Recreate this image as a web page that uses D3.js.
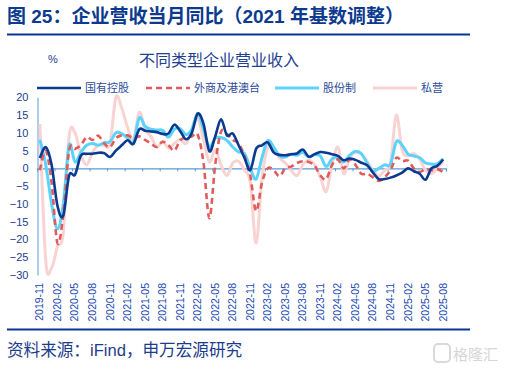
<!DOCTYPE html>
<html>
<head>
<meta charset="utf-8">
<script src="https://cdn.jsdelivr.net/npm/d3@7"></script>
<style>
body { margin: 0; background: #fff; }
svg { display: block; }
</style>
</head>
<body>
<div id="chart"></div>
<script>
// 国有控股
const stateOwned = [2.9, 6.0, 1.0, -10.5, -13.3, -2.0, -1.8, 3.6, 4.1, 4.1, 4.4, 4.3, 3.2, 5.0, 6.5, 7.9, 6.9, 11.0,
  10.6, 10.4, 10.2, 9.7, 9.8, 12.3, 10.5, 8.2, 10.0, 15.4, 12.5, 4.8, 9.0, 13.8, 9.3, 9.8, 6.5, 3.0,
  -0.5, 5.5, 6.5, 7.3, 4.5, 3.8, 3.7, 4.0, 4.2, 5.3, 3.3, 4.0, 4.6, 4.4, 4.0, 3.5, 2.3, 2.8,
  2.4, 1.6, 0.9, -1.2, -3.0, -3.0, -2.6, -2.0, -1.2, 0.0, -0.8, -1.5, -3.2, 0.0, 0.7, 2.5];
// 外商及港澳台
const foreignHkMoTw = [-0.5, 5.0, -4.0, -21.0, -13.0, 5.0, 5.5, 6.5, 8.8, 8.0, 9.2, 7.0, 6.0, 8.5, 9.3, 9.3, 8.5, 9.0,
  8.0, 7.0, 6.0, 7.5, 6.5, 5.0, 7.9, 8.8, 9.0, 9.5, 1.5, -14.0, 1.0, 10.3, 9.7, 8.0, 7.0, 3.5,
  -2.0, -12.0, -4.0, 0.0, -0.5, -2.2, 0.0, 0.5, 1.5, 2.0, 1.8, 0.8, -2.0, -3.0, 1.0, 2.5, 0.0, 2.5,
  1.0, -1.5, -1.5, -2.5, -3.5, -2.5, -0.5, 3.0, 2.0, 2.2, 0.0, -1.0, -0.2, -0.5, -0.2, -1.0];
// 股份制
const jointStock = [8.0, 1.0, -10.0, -17.0, -10.0, 6.5, 1.8, 4.5, 6.5, 7.0, 6.5, 7.2, 7.5, 10.0, 9.8, 8.5, 7.2, 14.2,
  11.8, 11.0, 10.8, 10.7, 8.8, 11.0, 11.2, 9.5, 11.0, 15.5, 11.0, 6.0, 8.5, 8.7, 7.9, 6.0, 4.6, 4.2,
  0.0, -3.0, 3.0, 7.8, 6.0, 3.5, 3.2, 4.0, 3.7, 4.5, 3.2, 3.8, 3.5, 0.5, 2.7, 3.2, 1.8, 3.7,
  4.8, 4.2, 1.5, -0.8, 0.0, 1.0, 1.2, 7.5, 6.5, 4.0, 3.5, 3.0, 1.5, 1.2, 1.3, 2.7];
// 私营
const privateOwned = [12.5, -26.0, -28.0, -22.0, -18.0, 9.0, 10.0, 4.0, 1.0, 4.5, 6.5, 6.5, 7.0, 20.0, 17.0, 11.5, 8.0, 15.8,
  11.0, 9.0, 6.0, 7.5, 5.8, 7.0, 8.2, 7.0, 10.5, 14.0, 8.0, 1.8, 5.3, 1.0, -2.0, 1.5, 2.0, -0.5,
  -4.0, -21.0, -3.0, 6.0, 5.5, 3.0, 1.5, -0.5, -2.0, 1.0, 2.3, 1.0, -2.5, -6.5, 1.0, 6.0, -1.5, 3.0,
  4.5, 4.0, 2.0, -0.5, -2.2, -0.5, 1.5, 15.0, 5.0, 3.5, 4.2, 2.5, -0.5, -1.5, 0.0, 2.0];

const tickLabels = ["2019-11", "2020-02", "2020-05", "2020-08", "2020-11", "2021-02", "2021-05", "2021-08",
  "2021-11", "2022-02", "2022-05", "2022-08", "2022-11", "2023-02", "2023-05", "2023-08", "2023-11",
  "2024-02", "2024-05", "2024-08", "2024-11", "2025-02", "2025-05", "2025-08"];
const yTicks = [20, 15, 10, 5, 0, -5, -10, -15, -20, -25, -30];

const fmt = d3.timeFormat("%Y-%m");
const months = d3.timeMonth.range(new Date(2019, 10, 1), new Date(2025, 8, 1)).map(fmt);

const series = [
  { name: "私营", values: privateOwned, color: "#f9d2d2", width: 3, dash: null },
  { name: "股份制", values: jointStock, color: "#5bd3fa", width: 3, dash: null },
  { name: "外商及港澳台", values: foreignHkMoTw, color: "#e05c5c", width: 2.6, dash: "6,4" },
  { name: "国有控股", values: stateOwned, color: "#0b3a8f", width: 2.6, dash: null }
];
const legendOrder = ["国有控股", "外商及港澳台", "股份制", "私营"];

const W = 508, H = 373;
const cnFont = "'Liberation Sans', 'Noto Sans CJK SC', sans-serif";
const navy = "#0c3a8e";

const svg = d3.select("#chart").append("svg")
  .attr("width", W)
  .attr("height", H);

// header
svg.append("text")
  .attr("x", 7).attr("y", 23)
  .attr("font-family", cnFont)
  .attr("font-size", 19)
  .attr("font-weight", "bold")
  .attr("fill", navy)
  .text("图 25：企业营收当月同比（2021 年基数调整）");
svg.append("line")
  .attr("x1", 7).attr("x2", 470).attr("y1", 34.5).attr("y2", 34.5)
  .attr("stroke", "#0a3597").attr("stroke-width", 2);

svg.append("text")
  .attr("x", 53).attr("y", 63)
  .attr("text-anchor", "middle")
  .attr("font-family", cnFont).attr("font-size", 11)
  .attr("fill", "#1c3d8c")
  .text("%");
svg.append("text")
  .attr("x", 219).attr("y", 66)
  .attr("text-anchor", "middle")
  .attr("font-family", cnFont).attr("font-size", 16)
  .attr("fill", "#22408f")
  .text("不同类型企业营业收入");

// scales
const x = d3.scaleBand().domain(months).range([37, 446]);
const y = d3.scaleLinear().domain([-30, 20]).range([275, 97.3]);
const cx = d => x(d) + x.bandwidth() / 2;

// y axis
const yAxis = svg.append("g")
  .attr("transform", "translate(" + 37.5 + ",0)")
  .call(d3.axisLeft(y).tickValues(yTicks).tickSize(0).tickPadding(9));
yAxis.select(".domain").attr("stroke", "#5b9bd5").attr("stroke-width", 1);
yAxis.selectAll("text")
  .attr("font-family", cnFont).attr("font-size", 11)
  .attr("fill", "#1c3d8c");

// zero line with ticks between categories
const zeroAxis = svg.append("g")
  .attr("transform", "translate(0," + y(0) + ")")
  .call(d3.axisBottom(x).tickValues(tickLabels.slice(1)).tickSize(3).tickFormat(""));
zeroAxis.select(".domain").attr("stroke", "#5b9bd5").attr("stroke-width", 1.2);
zeroAxis.selectAll(".tick")
  .attr("transform", d => "translate(" + (x(d) + 0.5) + ",0)");
zeroAxis.selectAll(".tick line").attr("stroke", "#5b9bd5");

// x labels at bottom
svg.append("g")
  .selectAll("text")
  .data(tickLabels)
  .enter()
  .append("text")
  .attr("transform", d => "translate(" + (cx(d) + 3.5) + ",283) rotate(-90)")
  .attr("text-anchor", "end")
  .attr("font-family", cnFont)
  .attr("font-size", 10.5)
  .attr("fill", "#2148b0")
  .text(d => d);

// lines
const line = d3.line()
  .x((d, i) => cx(months[i]))
  .y(d => y(d))
  .curve(d3.curveCardinal.tension(0));

svg.append("g")
  .selectAll("path")
  .data(series)
  .enter()
  .append("path")
  .attr("d", d => line(d.values))
  .attr("fill", "none")
  .attr("stroke", d => d.color)
  .attr("stroke-width", d => d.width)
  .attr("stroke-dasharray", d => d.dash)
  .attr("stroke-linejoin", "round");

// legend
const legendX = [37, 146, 275, 373];
const lg = svg.append("g")
  .selectAll("g")
  .data(legendOrder)
  .enter()
  .append("g")
  .attr("transform", (d, i) => "translate(" + legendX[i] + ",88)");
lg.append("line")
  .attr("x1", 0).attr("x2", 44)
  .attr("stroke", d => series.find(s => s.name === d).color)
  .attr("stroke-width", d => series.find(s => s.name === d).width)
  .attr("stroke-dasharray", d => series.find(s => s.name === d).dash);
lg.append("text")
  .attr("x", 48).attr("y", 4)
  .attr("font-family", cnFont).attr("font-size", 11)
  .attr("fill", "#2c4a9c")
  .text(d => d);

// footer
svg.append("line")
  .attr("x1", 7).attr("x2", 470).attr("y1", 329.5).attr("y2", 329.5)
  .attr("stroke", "#0a3597").attr("stroke-width", 2);
svg.append("text")
  .attr("x", 7).attr("y", 356)
  .attr("font-family", cnFont).attr("font-size", 16.6)
  .attr("fill", "#1c3d8c")
  .text("资料来源：iFind，申万宏源研究");

// watermark
svg.append("rect")
  .attr("x", 434).attr("y", 344).attr("width", 16).attr("height", 18).attr("rx", 4)
  .attr("fill", "none").attr("stroke", "#d9d9d9").attr("stroke-width", 2);
svg.append("text")
  .attr("x", 453).attr("y", 360)
  .attr("font-family", cnFont).attr("font-size", 15)
  .attr("fill", "#d6d6d6")
  .text("格隆汇");
</script>
</body>
</html>
